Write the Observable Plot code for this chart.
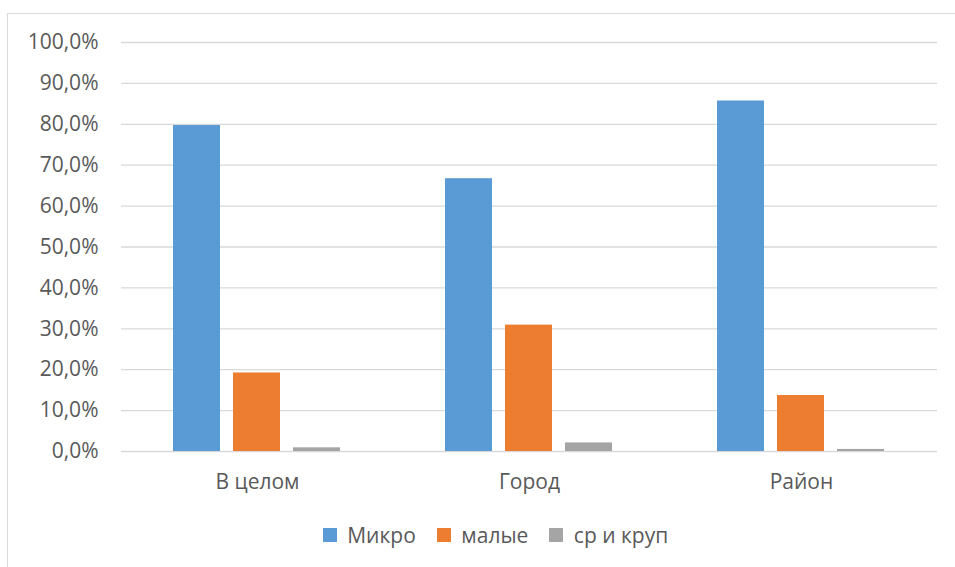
<!DOCTYPE html>
<html>
<head>
<meta charset="utf-8">
<script src="https://cdn.jsdelivr.net/npm/d3@7"></script>
<script src="https://cdn.jsdelivr.net/npm/@observablehq/plot@0.6"></script>
<style>
  html, body { margin: 0; padding: 0; background: #fff; }
  body { width: 955px; height: 567px; overflow: hidden; position: relative; font-family: "Open Sans", sans-serif; }
  #frame {
    position: absolute; left: 7px; top: 13px; width: 960px; height: 570px;
    border-left: 1px solid #d9d9d9; border-top: 1px solid #d9d9d9;
  }
  #chart { position: absolute; left: 1px; top: 0px; }
  #legend { position: absolute; left: 24px; top: 504px; width: 948px; display: flex; justify-content: center; }
  #legend > div, #legend span { font-size: 21px !important; color: #595959 !important; font-family: "Open Sans", sans-serif !important; }
</style>
</head>
<body>
<div id="frame">
  <div id="chart"></div>
  <div id="legend"></div>
</div>
<script>
// Share of enterprises by size, per territory
const groups = ["В целом", "Город", "Район"];
const series = ["Микро", "малые", "ср и круп"];
const micro = [79.7, 66.7, 85.7];
const small = [19.2, 30.9, 13.7];
const midLarge = [0.9, 2.1, 0.5];
const yTicks = [0, 10, 20, 30, 40, 50, 60, 70, 80, 90, 100];
const colors = ["#5B9BD5", "#ED7D31", "#A5A5A5"];

const values = [micro, small, midLarge];
const rows = [];
groups.forEach((g, i) => {
  series.forEach((s, j) => rows.push({group: g, series: s, value: values[j][i]}));
});

const fmt = d => d.toFixed(1).replace(".", ",") + "%";

// Facet bands touch each other so the grid runs unbroken across groups;
// the spacing between groups comes from the outer padding of x.
const plot = Plot.plot({
  width: 947,
  height: 496,
  marginLeft: 111,
  marginRight: 18,
  marginTop: 28,
  marginBottom: 59,
  style: {fontFamily: "'Open Sans', sans-serif", fontSize: "21px", color: "#595959", background: "#fff"},
  fx: {domain: groups, padding: 0, label: null},
  x: {domain: series, paddingInner: 0.215, paddingOuter: 0.861, axis: null},
  y: {domain: [0, 100], label: null},
  color: {domain: series, range: colors},
  marks: [
    Plot.gridY(yTicks, {stroke: "#d9d9d9", strokeOpacity: 1, strokeWidth: 1.3}),
    Plot.axisY(yTicks, {tickSize: 0, tickPadding: 23, tickFormat: fmt, label: null, fill: "#595959"}),
    Plot.axisFx({tickSize: 0, tickPadding: 23, label: null, anchor: "bottom", fill: "#595959"}),
    Plot.barY(rows, {fx: "group", x: "series", y: "value", fill: "series"})
  ]
});
document.getElementById("chart").appendChild(plot);

const legend = plot.legend("color", {swatchSize: 14});
legend.style.fontSize = "21px";
document.getElementById("legend").appendChild(legend);
</script>
</body>
</html>
